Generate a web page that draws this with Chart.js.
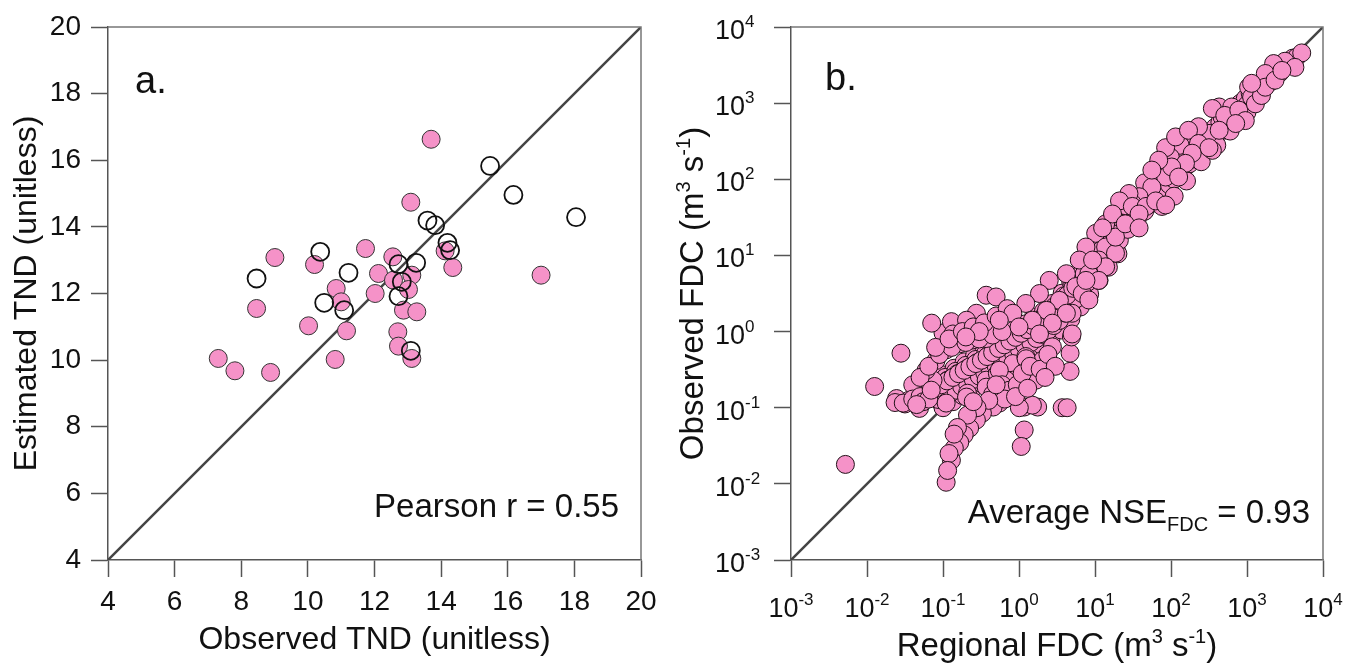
<!DOCTYPE html>
<html lang="en">
<head>
<meta charset="UTF-8">
<title>TND and FDC comparison</title>
<script src="https://cdn.jsdelivr.net/npm/chart.js"></script>
<style>
  body { margin: 0; background: #fff; }
  #wrap { position: relative; width: 1345px; height: 663px; }
  #wrap canvas { position: absolute; top: 0; }
  #chartA { left: 0; }
  #chartB { left: 672px; }
</style>
</head>
<body>
<div id="wrap">
  <canvas id="chartA" width="672" height="663"></canvas>
  <canvas id="chartB" width="673" height="663"></canvas>
</div>
<script>
// ---- panel a: TND, observed vs estimated ----
const tndObsFilled = [13.70, 13.09, 9.01, 10.20, 11.73, 12.55, 12.12, 13.12, 12.57, 10.85, 12.02, 13.02, 11.00, 12.87,
  13.27, 10.02, 11.16, 12.70, 12.72, 13.12, 10.82, 8.88, 14.35, 14.12, 17.00, 8.46, 7.31, 7.81];
const tndEstFilled = [16.63, 14.74, 13.08, 12.87, 13.35, 13.10, 12.60, 12.55, 12.40, 12.15, 12.00, 12.12, 11.75, 11.50,
  11.45, 11.03, 10.88, 10.85, 10.42, 10.05, 10.02, 9.63, 12.78, 13.28, 12.55, 11.55, 10.05, 9.68];
const tndObsOpen = [15.47, 16.17, 18.05, 13.59, 13.82, 14.19, 14.27, 10.37, 11.22, 12.72, 13.25, 12.82, 12.72, 10.49, 11.09, 13.09, 8.46];
const tndEstOpen = [15.83, 14.96, 14.29, 14.19, 14.05, 13.52, 13.30, 13.25, 12.62, 12.88, 12.92, 12.35, 11.92, 11.72, 11.50, 10.28, 12.45];
const tndRange = [4, 20];

// ---- panel b: regional vs observed FDC, [regional, observed] in m3/s ----
const fdcDenseA = [[0.08,0.18],[0.095,0.2],[0.113,0.225],[0.135,0.25],[0.16,0.28],[0.19,0.31],[0.226,0.345],[0.27,0.38],
  [0.32,0.42],[0.38,0.47],[0.45,0.53],[0.54,0.6],[0.64,0.67],[0.76,0.75],[0.9,0.84],[1.07,0.95],[1.28,1.06],[1.52,1.19],
  [1.8,1.33],[2.15,1.52],[2.55,1.75],[3.05,2.05],[3.6,2.45],[4.3,3.0],[5.1,3.7],[6.1,4.6],[7.2,5.7],[8.6,7.2],[10.2,9.2],[12.2,11.8]];
const fdcDenseB = [[0.088,0.128],[0.104,0.14],[0.124,0.155],[0.148,0.17],[0.176,0.19],[0.21,0.21],[0.25,0.235],[0.3,0.26],
  [0.355,0.285],[0.42,0.32],[0.5,0.355],[0.6,0.4],[0.71,0.45],[0.85,0.51],[1.01,0.585],[1.2,0.65],[1.43,0.72],[1.7,0.81],
  [2.02,0.92],[2.4,1.03],[2.86,1.2],[3.4,1.4],[4.05,1.75],[4.8,2.15],[5.7,2.7],[6.8,3.5],[8.1,4.5],[9.6,5.8]];
const fdcCoreTop = [[0.075,0.23],[0.1,0.27],[0.14,0.33],[0.19,0.4],[0.26,0.48],[0.35,0.58],[0.47,0.71],[0.64,0.85],[0.86,1.05],
  [1.15,1.25],[1.55,1.55],[2.1,1.85],[2.8,2.35],[3.7,3.2],[4.8,4.5],[6.4,6.4],[8.4,9.6],[11,14],[14.5,20],[19,29],[25,42]];
const fdcCoreTop2 = [[0.08,0.21],[0.107,0.25],[0.147,0.3],[0.2,0.36],[0.27,0.43],[0.365,0.52],[0.5,0.64],[0.67,0.77],[0.9,0.95],
  [1.2,1.13],[1.62,1.38],[2.2,1.68],[2.95,2.15],[3.9,2.95],[5.1,4.2],[6.8,6],[8.9,8.9],[11.7,13],[15.5,18.5],[20.5,27]];
const fdcCoreUpper = [[0.085,0.19],[0.115,0.23],[0.155,0.28],[0.21,0.33],[0.28,0.39],[0.38,0.47],[0.52,0.58],[0.7,0.7],[0.94,0.85],
  [1.27,1.02],[1.7,1.22],[2.3,1.5],[3.1,1.95],[4.1,2.7],[5.5,3.9],[7.3,5.6],[9.6,8.3],[12.5,12],[16.5,17.5],[22,26]];
const fdcCoreUpper2 = [[0.082,0.17],[0.111,0.205],[0.15,0.25],[0.2,0.3],[0.27,0.355],[0.37,0.43],[0.5,0.53],[0.67,0.64],[0.9,0.78],
  [1.22,0.94],[1.64,1.13],[2.22,1.38],[2.95,1.75],[3.9,2.4],[5.2,3.45],[6.9,5],[9,7.3],[11.8,10.7],[15.6,15.5],[20.7,22.5]];
const fdcCoreMid = [[0.079,0.155],[0.107,0.186],[0.145,0.224],[0.195,0.269],[0.263,0.324],[0.355,0.389],[0.479,0.479],[0.646,0.575],
  [0.871,0.708],[1.17,0.851],[1.58,1.05],[2.14,1.26],[2.82,1.58],[3.72,2.14],[4.9,3.02],[6.46,4.37],[8.51,6.46],[11.2,9.55],
  [14.8,13.8],[19.5,20],[25.7,28.8]];
const fdcCoreMid2 = [[0.085,0.142],[0.113,0.17],[0.155,0.204],[0.207,0.245],[0.28,0.292],[0.38,0.35],[0.51,0.43],[0.69,0.52],
  [0.93,0.64],[1.26,0.77],[1.69,0.95],[2.3,1.15],[3.05,1.46],[4.05,2.0],[5.4,2.9],[7.1,4.3],[9.4,6.3],[12.3,9.3],[16.2,13.6]];
const fdcCoreLower = [[0.09,0.13],[0.12,0.155],[0.165,0.185],[0.22,0.22],[0.3,0.26],[0.4,0.31],[0.55,0.38],[0.74,0.47],[1.0,0.58],
  [1.35,0.7],[1.8,0.85],[2.45,1.05],[3.3,1.35],[4.4,1.9],[5.9,2.8],[7.8,4.2],[10.3,6.2],[13.5,9.2],[18,13.5]];
const fdcCoreLower2 = [[0.095,0.115],[0.127,0.137],[0.172,0.165],[0.23,0.197],[0.315,0.232],[0.42,0.277],[0.57,0.34],[0.77,0.42],
  [1.04,0.51],[1.4,0.62],[1.87,0.76],[2.55,0.94],[3.45,1.2],[4.6,1.65],[6.1,2.4],[8.1,3.6],[10.8,5.4],[14.2,8],[19,12]];
const fdcCoreBottom = [[0.1,0.1],[0.135,0.12],[0.18,0.145],[0.24,0.175],[0.33,0.205],[0.44,0.245],[0.6,0.3],[0.8,0.37],[1.08,0.45],
  [1.45,0.55],[1.95,0.67],[2.65,0.83],[3.6,1.05],[4.8,1.45],[6.4,2.1],[8.5,3.1],[11.3,4.7],[15,7],[20,10.5]];
const fdcAboveCore = [[10.2,19.5],[7.6,12.9],[13.8,12.9],[20.9,15.8],[6.2,8.7],[11.2,8.7],[18.6,10.7],[4.2,5.75],[8.3,5.75],
  [13.8,7.1],[2.5,4.7],[5.6,3.9],[11.2,4.7],[1.86,3.16],[3.4,2.57],[6.8,3.16],[1.23,2.34],[2.3,1.9],[4.2,1.74],[0.83,1.74],
  [1.5,1.41],[2.75,1.29],[0.55,1.41],[1.0,1.15],[1.86,0.93]];
const fdcLowBranch = [[0.37,0.23],[0.21,0.155],[0.52,0.28],[0.83,0.38],[1.23,0.47],[0.83,0.23],[1.51,0.23],[1.76,0.102],[1.17,0.102],
  [1.17,0.051],[1.07,0.031],[0.55,0.115],[0.457,0.102],[0.33,0.085],[0.275,0.069],[0.224,0.054],[0.19,0.044],[0.166,0.035],
  [0.141,0.0295],[0.129,0.0204],[0.11,0.0105],[0.11,0.115],[0.204,0.138],[0.37,0.186],[0.68,0.23],[1.23,0.31],[2.04,0.42],
  [2.75,0.63],[3.7,0.1],[4.3,0.1],[4.7,0.3],[4.7,0.52],[4.9,0.85],[5.0,1.74],[5.0,0.93],[1.24,0.44],[1.67,0.23],[0.55,0.31],
  [1.5,0.108],[1.01,0.1],[0.6,0.2],[0.75,0.17],[0.95,0.2],[1.1,0.28],[1.4,0.35],[1.9,0.32],[2.4,0.5],[0.45,0.15],[0.65,0.13],
  [0.9,0.14],[1.3,0.18],[0.4,0.125],[0.28,0.1],[0.21,0.08],[0.155,0.055],[0.14,0.045],[0.12,0.025],[0.115,0.015],[3,0.35],
  [2.2,0.25],[0.5,0.2],[0.25,0.12]];
const fdcLeftBranch = [[0.0245,0.132],[0.036,0.126],[0.049,0.098],[0.0447,0.17],[0.06,0.155],[0.074,0.23],[0.06,0.31],[0.081,0.417],
  [0.11,0.575],[0.166,0.69],[0.245,0.776],[0.37,0.81],[0.1,0.96],[0.071,1.29],[0.129,1.35],[0.135,0.93],[0.37,3.0],[0.5,2.85],
  [0.275,1.74],[0.204,1.41],[0.0052,0.018],[0.0126,0.19],[0.028,0.52],[0.0234,0.117],[0.0316,0.112],[0.04,0.2],[0.05,0.25],
  [0.065,0.35],[0.09,0.5],[0.13,0.62],[0.2,0.72],[0.3,0.8],[0.45,0.9],[0.6,1.0],[0.08,0.62],[0.12,0.8],[0.18,1.0],[0.25,1.15],
  [0.35,1.3],[0.5,1.6],[0.7,2.0],[0.3,1.0],[0.2,0.85],[0.03,0.115],[0.04,0.13],[0.05,0.14],[0.055,0.12],[0.065,0.13],
  [0.07,0.17],[0.045,0.11]];
const fdcHighFlows = [[5250,4570],[3160,3550],[4270,2950],[2240,3310],[1910,1820],[1740,2450],[1050,1620],[1150,1200],[1000,760],
  [470,660],[430,890],[630,890],[316,400],[230,490],[350,240],[132,280],[98,195],[76,145],[85,107],[56,79],[38,59],[31,48],
  [17,32],[13.8,26],[18.6,17.4],[9.3,8.7],[7.6,4.7],[8.3,2.6],[76,44],[350,850],[510,690],[780,810],[950,590],[1290,980],
  [1550,1260],[710,540],[430,440],[1740,1620],[2340,2000],[2880,2690],[1150,1820],[85,260],[115,360],[170,440],[230,295],
  [316,260],[190,220],[155,162],[102,145],[126,107],[69,178],[56,132],[28,65],[21,52],[31,44],[47,44],[63,52],[38,35],
  [17,35],[12.6,23],[25,26],[38,23],[85,46]];
const fdcHighFlows2 = [[20,24],[24,30],[27,22],[30,36],[34,40],[36,30],[42,50],[45,38],[50,62],[55,48],[60,70],[65,58],[72,88],
  [80,70],[88,110],[95,85],[105,130],[110,100],[120,150],[130,120],[145,185],[150,140],[165,205],[175,160],[190,240],[200,185],
  [215,270],[240,215],[250,320],[270,250],[290,360],[300,280],[330,420],[360,330],[380,480],[400,370],[440,560],[480,450],
  [520,650],[560,520],[600,760],[650,610],[700,880],[760,720],[820,1000],[880,830],[950,1150],[1000,950],[1100,1350],
  [1200,1100],[1300,1550],[1400,1300],[1550,1800],[1700,1600],[1900,2200],[2100,1950],[2400,2700],[2700,2500],[3000,3300],
  [3500,3200],[4000,3900],[4500,4000],[60,110],[90,170],[140,260],[200,350],[110,60],[160,95],[250,170],[400,280],[600,430],
  [900,700],[45,90],[30,55],[25,45]];
const fdcDecades = [0.001, 0.01, 0.1, 1, 10, 100, 1000, 10000];

const FONT = "'Liberation Sans', Arial, sans-serif";
const PINK = '#f592c8';

function drawRich(ctx, parts, x, y, align) {
  // parts: [text, size, dy]
  let total = 0;
  parts.forEach(p => { ctx.font = p[1] + 'px ' + FONT; total += ctx.measureText(p[0]).width; });
  let cx = align === 'center' ? x - total / 2 : (align === 'right' ? x - total : x);
  ctx.textAlign = 'left';
  ctx.textBaseline = 'alphabetic';
  parts.forEach(p => {
    ctx.font = p[1] + 'px ' + FONT;
    ctx.fillText(p[0], cx, y + (p[2] || 0));
    cx += ctx.measureText(p[0]).width;
  });
}

// top and right frame lines
const framePlugin = {
  id: 'frame',
  afterDatasetsDraw(chart) {
    const { ctx, chartArea: a } = chart;
    ctx.save();
    ctx.strokeStyle = '#777';
    ctx.lineWidth = 1.5;
    ctx.beginPath();
    ctx.moveTo(a.left, a.top);
    ctx.lineTo(a.right, a.top);
    ctx.lineTo(a.right, a.bottom);
    ctx.stroke();
    ctx.restore();
  }
};

function axisStyle() {
  return {
    grid: { drawOnChartArea: false, drawTicks: true, tickLength: 17, tickWidth: 1.5, color: '#555', tickColor: '#555' },
    border: { display: true, color: '#555', width: 1.5 }
  };
}

// ---------------- panel a ----------------
const annotA = {
  id: 'annotA',
  afterDraw(chart) {
    const ctx = chart.ctx;
    ctx.save();
    ctx.fillStyle = '#111';
    drawRich(ctx, [['a.', 38]], 135, 93, 'left');
    drawRich(ctx, [['Pearson r = 0.55', 33]], 619, 517, 'right');
    ctx.restore();
  }
};

new Chart(document.getElementById('chartA'), {
  type: 'scatter',
  data: {
    datasets: [
      {
        type: 'line',
        data: [{ x: tndRange[0], y: tndRange[0] }, { x: tndRange[1], y: tndRange[1] }],
        borderColor: '#444', borderWidth: 2.5, pointRadius: 0, order: 3
      },
      {
        data: tndObsFilled.map((v, i) => ({ x: v, y: tndEstFilled[i] })),
        backgroundColor: PINK, borderColor: '#333', borderWidth: 1, pointRadius: 9, order: 2
      },
      {
        data: tndObsOpen.map((v, i) => ({ x: v, y: tndEstOpen[i] })),
        backgroundColor: 'rgba(0,0,0,0)', borderColor: '#111', borderWidth: 1.8, pointRadius: 9, order: 1
      }
    ]
  },
  options: {
    responsive: false,
    animation: false,
    layout: { padding: { top: 27, right: 31, left: 0, bottom: 0 } },
    plugins: { legend: { display: false }, tooltip: { enabled: false } },
    scales: {
      x: Object.assign(axisStyle(), {
        type: 'linear', min: tndRange[0], max: tndRange[1],
        ticks: { stepSize: 2, padding: 8, maxRotation: 0, color: '#111', font: { family: FONT, size: 28 } },
        title: { display: true, text: 'Observed TND (unitless)', color: '#111', font: { family: FONT, size: 32 }, padding: { top: 0, bottom: 4 } },
        afterFit: s => { s.height = 103; }
      }),
      y: Object.assign(axisStyle(), {
        type: 'linear', min: tndRange[0], max: tndRange[1],
        ticks: { stepSize: 2, padding: 10, color: '#111', font: { family: FONT, size: 28 } },
        title: { display: true, text: 'Estimated TND (unitless)', color: '#111', font: { family: FONT, size: 32 }, padding: { top: 8, bottom: 0 } },
        afterFit: s => { s.width = 108; }
      })
    }
  },
  plugins: [framePlugin, annotA]
});

// ---------------- panel b ----------------
const labelsB = {
  id: 'labelsB',
  afterDraw(chart) {
    const ctx = chart.ctx;
    const xs = chart.scales.x, ys = chart.scales.y;
    ctx.save();
    ctx.fillStyle = '#111';
    xs.ticks.forEach(t => {
      const e = String(Math.round(Math.log10(t.value)));
      drawRich(ctx, [['10', 27], [e, 17, -12]], xs.getPixelForValue(t.value), 617, 'center');
    });
    ys.ticks.forEach(t => {
      const e = String(Math.round(Math.log10(t.value)));
      const py = ys.getPixelForValue(t.value) + 12;
      drawRich(ctx, [['10', 27]], 73, py, 'right');
      drawRich(ctx, [[e, 17]], 73, py - 12, 'left');
    });
    // axis titles
    const a = chart.chartArea;
    drawRich(ctx, [['Regional FDC (m', 33], ['3', 20, -13], [' s', 33], ['-1', 20, -13], [')', 33]], (a.left + a.right) / 2, 656, 'center');
    ctx.translate(31, (a.top + a.bottom) / 2);
    ctx.rotate(-Math.PI / 2);
    drawRich(ctx, [['Observed FDC (m', 33], ['3', 20, -13], [' s', 33], ['-1', 20, -13], [')', 33]], 0, 0, 'center');
    ctx.restore();
    ctx.save();
    ctx.fillStyle = '#111';
    drawRich(ctx, [['b.', 38]], 153, 90, 'left');
    drawRich(ctx, [['Average NSE', 33], ['FDC', 20, 8], [' = 0.93', 33]], 638, 523, 'right');
    ctx.restore();
  }
};

// dense core curves go last within the core so their outlines stay visible
const fdcAll = [].concat(fdcCoreTop, fdcCoreTop2, fdcCoreUpper, fdcCoreUpper2, fdcCoreMid, fdcCoreMid2,
  fdcCoreLower, fdcCoreLower2, fdcCoreBottom, fdcDenseB, fdcDenseA, fdcLowBranch, fdcLeftBranch, fdcAboveCore,
  fdcHighFlows2, fdcHighFlows);

new Chart(document.getElementById('chartB'), {
  type: 'scatter',
  data: {
    datasets: [
      {
        type: 'line',
        data: [{ x: fdcDecades[0], y: fdcDecades[0] }, { x: fdcDecades[7], y: fdcDecades[7] }],
        borderColor: '#444', borderWidth: 2.5, pointRadius: 0, order: 2
      },
      {
        data: fdcAll.map(p => ({ x: p[0], y: p[1] })),
        backgroundColor: PINK, borderColor: '#221018', borderWidth: 1, pointRadius: 9, order: 1
      }
    ]
  },
  options: {
    responsive: false,
    animation: false,
    layout: { padding: { top: 27, right: 22, left: 0, bottom: 0 } },
    plugins: { legend: { display: false }, tooltip: { enabled: false } },
    scales: {
      x: Object.assign(axisStyle(), {
        type: 'logarithmic', min: fdcDecades[0], max: fdcDecades[7],
        ticks: { display: false },
        afterBuildTicks: s => { s.ticks = fdcDecades.map(v => ({ value: v })); },
        afterFit: s => { s.height = 103; }
      }),
      y: Object.assign(axisStyle(), {
        type: 'logarithmic', min: fdcDecades[0], max: fdcDecades[7],
        ticks: { display: false },
        afterBuildTicks: s => { s.ticks = fdcDecades.map(v => ({ value: v })); },
        afterFit: s => { s.width = 119; }
      })
    }
  },
  plugins: [framePlugin, labelsB]
});
</script>
</body>
</html>
